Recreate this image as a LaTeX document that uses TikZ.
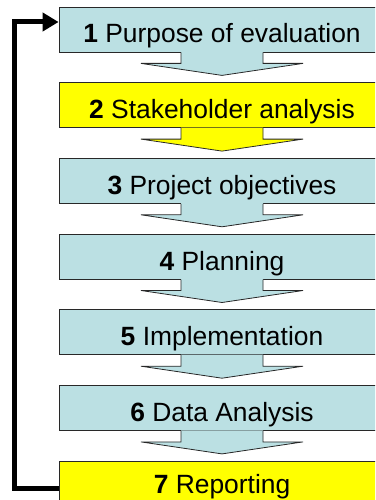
\documentclass[tikz,border=0pt]{standalone}
\usepackage{fontspec}
\setmainfont{Liberation Sans}
\usetikzlibrary{calc,arrows.meta}
\definecolor{lblue}{RGB}{187,224,227}
\definecolor{yel}{RGB}{255,255,0}
\definecolor{edge}{RGB}{40,40,40}
\tikzset{
  stepbox/.style={draw=edge,line width=0.8pt,minimum width=326pt,minimum height=45pt,inner sep=0pt,
    text height=27pt,text depth=0pt,
    font=\fontsize{26.4}{30}\selectfont},
  fbline/.style={line width=5pt,line join=miter,-{Triangle[length=16pt,width=18pt]}},
}
\newcommand{\flowarrow}[2]{%
  \fill[#2] ($(#1.south)+(-41,-0.6)$) -- ($(#1.south)+(-41,11)$) -- ($(#1.south)+(-81,11)$) -- ($(#1.south)+(0,23)$) -- ($(#1.south)+(81,11)$) -- ($(#1.south)+(41,11)$) -- ($(#1.south)+(41,-0.6)$) -- cycle;
  \draw[edge,line width=0.8pt,line join=miter] ($(#1.south)+(-41,0)$) -- ($(#1.south)+(-41,11)$) -- ($(#1.south)+(-81,11)$) -- ($(#1.south)+(0,23)$) -- ($(#1.south)+(81,11)$) -- ($(#1.south)+(41,11)$) -- ($(#1.south)+(41,0)$);
}
\begin{document}
\begin{tikzpicture}[x=1pt,y=-1pt]
\useasboundingbox (0,0) rectangle (375,500);
\clip (0,0) rectangle (375,500);
\node[stepbox,fill=lblue] (b1) at (222,29.5) {\textbf{1} Purpose of evaluation};
\node[stepbox,fill=yel] (b2) at (222,105.2) {\textbf{2} Stakeholder analysis};
\node[stepbox,fill=lblue] (b3) at (222,180.9) {\textbf{3} Project objectives};
\node[stepbox,fill=lblue] (b4) at (222,256.6) {\textbf{4} Planning};
\node[stepbox,fill=lblue] (b5) at (222,332.3) {\textbf{5} Implementation};
\node[stepbox,fill=lblue] (b6) at (222,408.0) {\textbf{6} Data Analysis};
\node[stepbox,fill=yel,text height=20pt] (b7) at (222,483.7) {\textbf{7} Reporting};
\flowarrow{b1}{lblue}
\flowarrow{b2}{yel}
\flowarrow{b3}{lblue}
\flowarrow{b4}{lblue}
\flowarrow{b5}{lblue}
\flowarrow{b6}{lblue}
\coordinate (fb) at (14.5,22);
\draw[fbline] ($(b7.west)+(0,5)$) -| (fb) -- ($(b1.west)+(0,-7.5)$);
\end{tikzpicture}
\end{document}
